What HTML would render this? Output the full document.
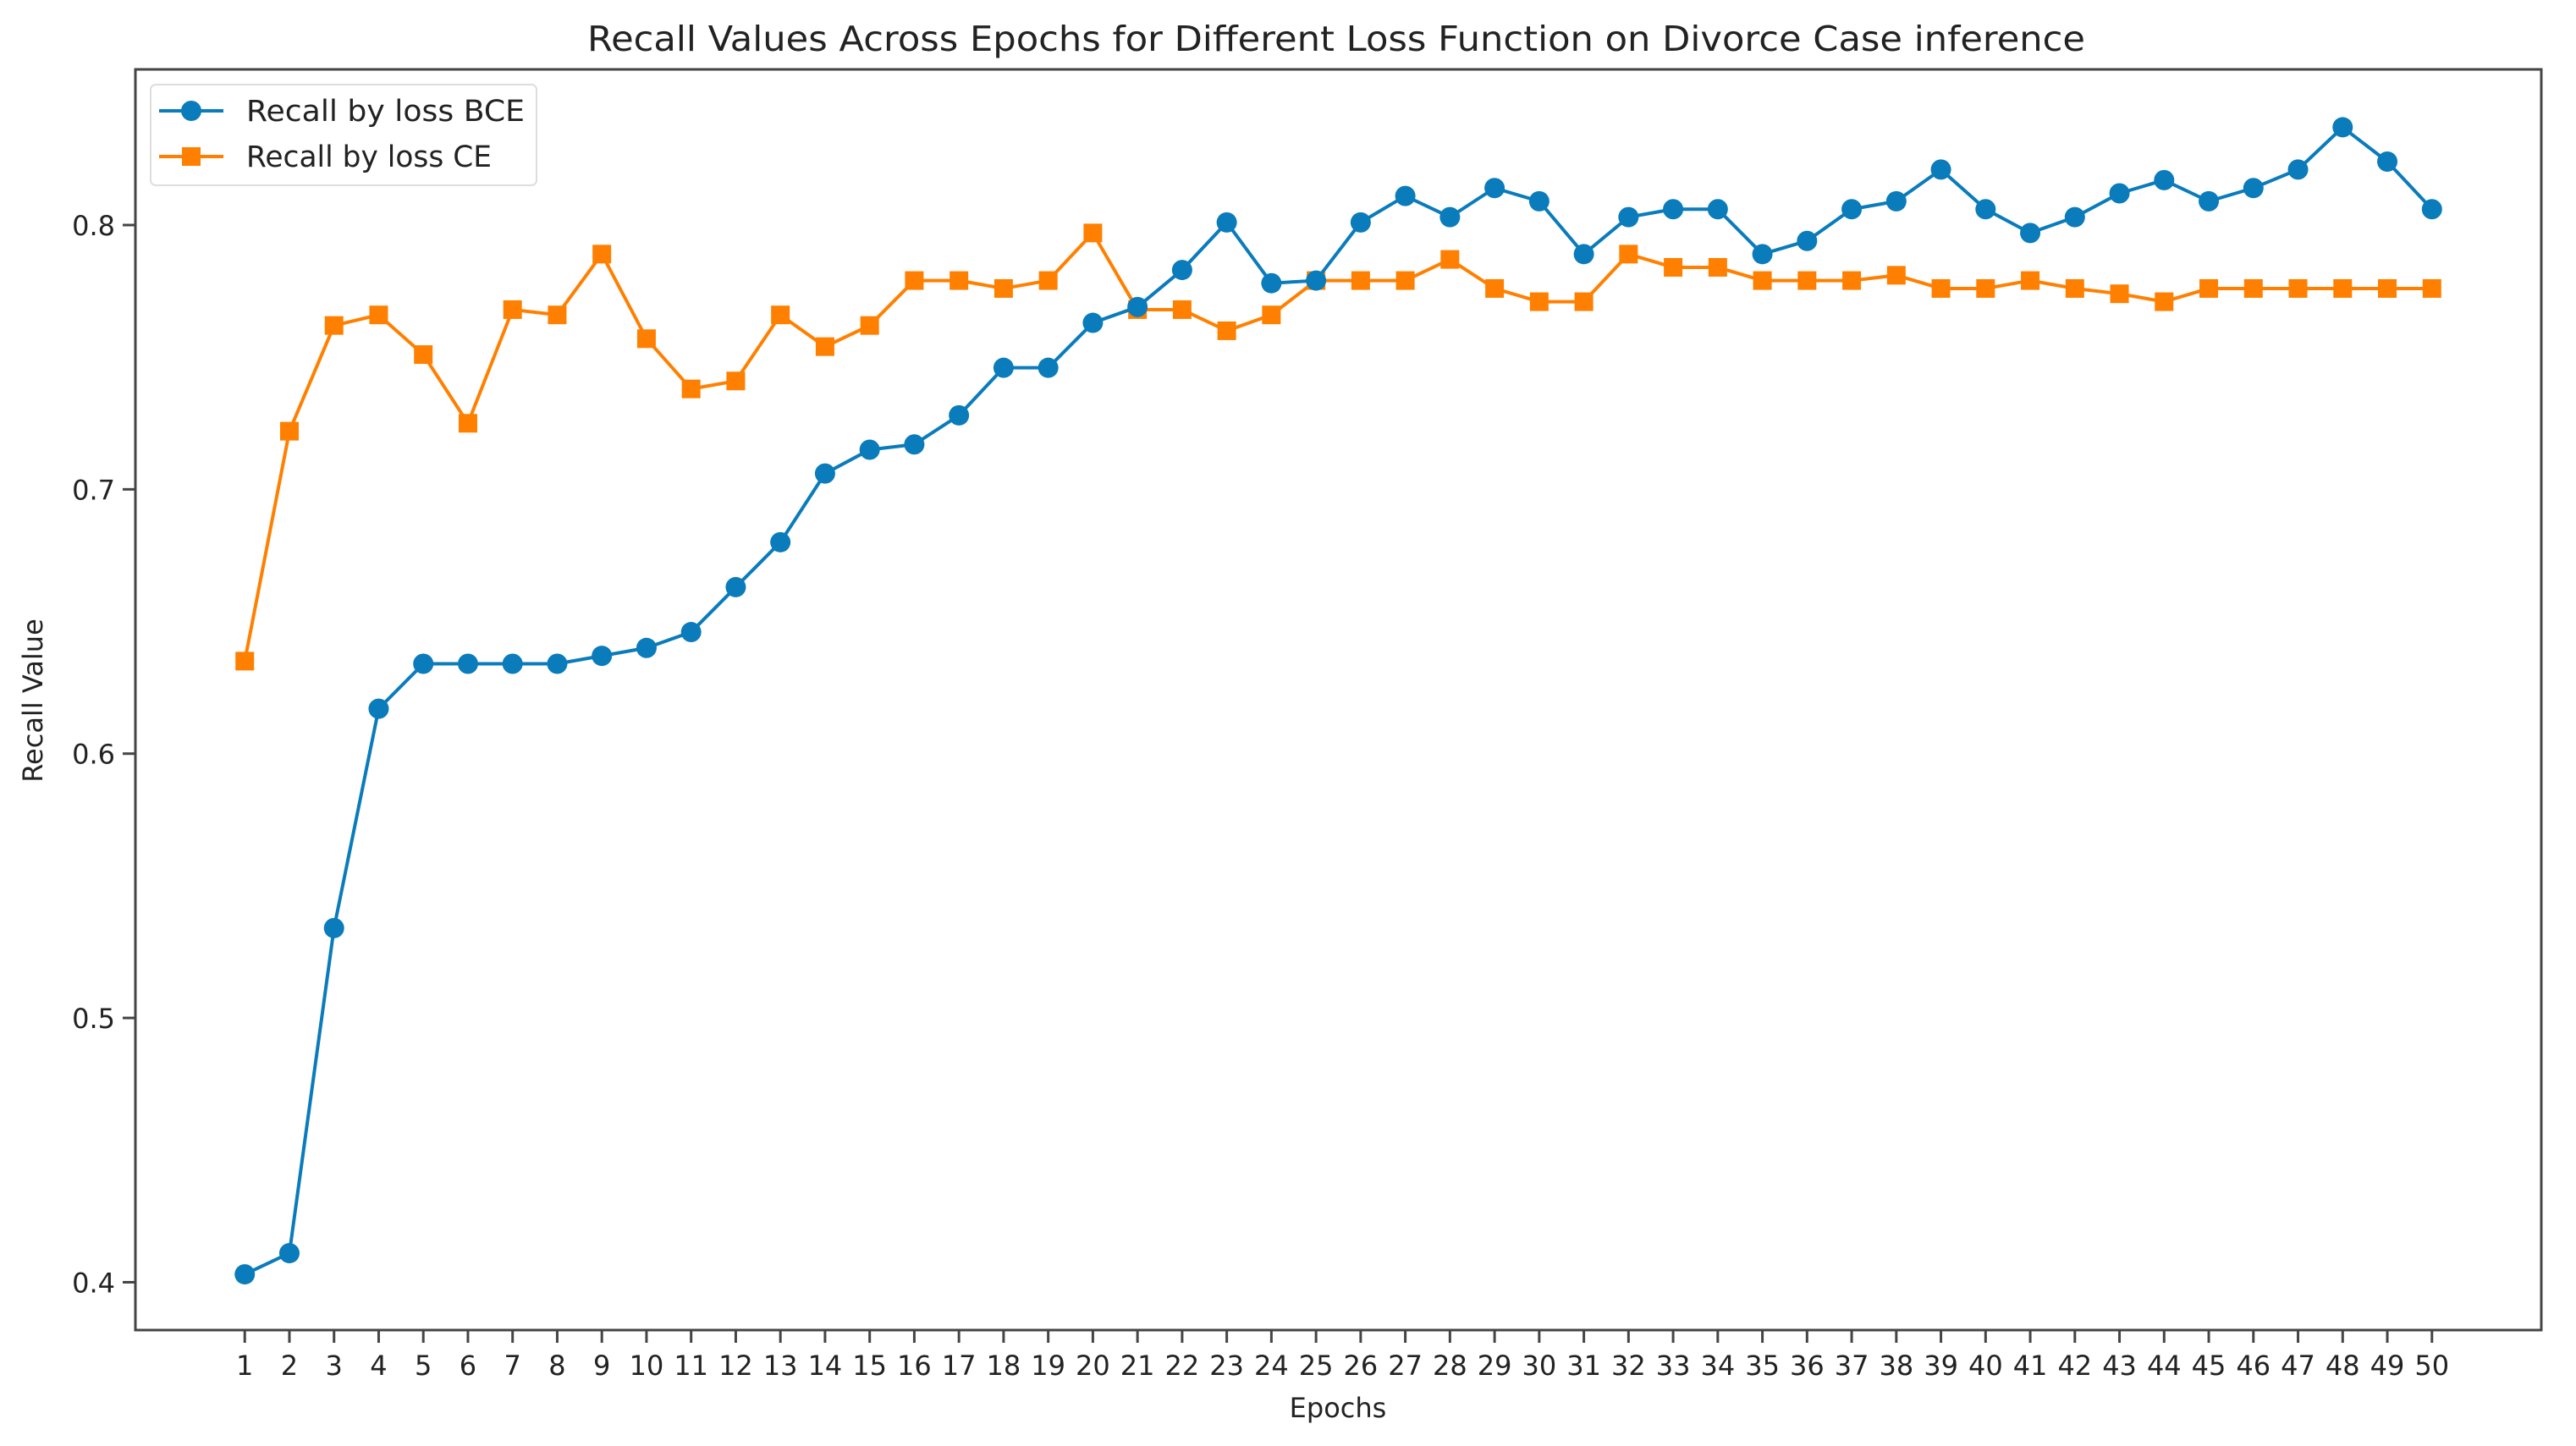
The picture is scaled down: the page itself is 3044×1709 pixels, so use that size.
<!DOCTYPE html>
<html><head><meta charset="utf-8"><style>
html,body{margin:0;padding:0;background:#fff;}
svg{display:block;font-family:"DejaVu Sans","Liberation Sans",sans-serif;}
</style></head><body>
<svg id="chart" width="3044" height="1709" viewBox="0 0 3044 1709" xmlns="http://www.w3.org/2000/svg">
<rect x="0" y="0" width="3044" height="1709" fill="#fff"/>
<text x="694" y="60" font-size="41" textLength="1770" lengthAdjust="spacingAndGlyphs" fill="#222">Recall Values Across Epochs for Different Loss Function on Divorce Case inference</text>
<g id="plot"></g>
<rect x="160" y="82" width="2843" height="1490" fill="none" stroke="#444" stroke-width="3"/>
<text x="1581" y="1675" font-size="32" text-anchor="middle" fill="#222">Epochs</text>
<text transform="translate(50,828) rotate(-90)" font-size="32" text-anchor="middle" fill="#222">Recall Value</text>
<g>
<rect x="178" y="100" width="456" height="119" rx="6" fill="#fff" stroke="#ddd" stroke-width="2"/>
<g>
<line x1="188" y1="131" x2="264" y2="131" stroke="#0a7bbb" stroke-width="4"/>
<circle cx="226" cy="131" r="12" fill="#0a7bbb"/>
<text x="291" y="143" font-size="35" textLength="329" lengthAdjust="spacingAndGlyphs" fill="#222">Recall by loss BCE</text>
</g>
<g>
<line x1="188" y1="185" x2="264" y2="185" stroke="#ff8000" stroke-width="4"/>
<rect x="215" y="174" width="22" height="22" fill="#ff8000"/>
<text x="291" y="197" font-size="35" textLength="290" lengthAdjust="spacingAndGlyphs" fill="#222">Recall by loss CE</text>
</g>
</g>
</svg>
<script>
const epochs = Array.from({length:50},(_,i)=>i+1);
const bceValues = [0.403,0.411,0.534,0.617,0.634,0.634,0.634,0.634,0.637,0.640,0.646,0.663,0.680,0.706,0.715,0.717,0.728,0.746,0.746,0.763,0.769,0.783,0.801,0.778,0.779,0.801,0.811,0.803,0.814,0.809,0.789,0.803,0.806,0.806,0.789,0.794,0.806,0.809,0.821,0.806,0.797,0.803,0.812,0.817,0.809,0.814,0.821,0.837,0.824,0.806];
const ceValues = [0.635,0.722,0.762,0.766,0.751,0.725,0.768,0.766,0.789,0.757,0.738,0.741,0.766,0.754,0.762,0.779,0.779,0.776,0.779,0.797,0.768,0.768,0.760,0.766,0.779,0.779,0.779,0.787,0.776,0.771,0.771,0.789,0.784,0.784,0.779,0.779,0.779,0.781,0.776,0.776,0.779,0.776,0.774,0.771,0.776,0.776,0.776,0.776,0.776,0.776];
const yTicks = [0.4,0.5,0.6,0.7,0.8];
const NS="http://www.w3.org/2000/svg";
const L=160,R=3003,T=82,B=1572;
const xMin=-1.45,xMax=52.45,yMin=0.3819,yMax=0.8589;
const xs=v=>L+(v-xMin)/(xMax-xMin)*(R-L);
const ys=v=>B-(v-yMin)/(yMax-yMin)*(B-T);
const g=document.getElementById('plot');
function mk(tag,attrs){const e=document.createElementNS(NS,tag);for(const k in attrs)e.setAttribute(k,attrs[k]);g.appendChild(e);return e;}
yTicks.forEach(t=>{
 const l=mk('line',{x1:L-15,x2:L,y1:ys(t),y2:ys(t),stroke:'#444','stroke-width':3});
 
 
 const tx=mk('text',{x:L-24,y:ys(t)+12,'font-size':32,'text-anchor':'end',fill:'#222'});
 tx.textContent=t.toFixed(1);
 
 
});
epochs.forEach(e=>{
 const l=mk('line',{x1:xs(e),x2:xs(e),y1:B,y2:B+15,stroke:'#444','stroke-width':3});
 
 
 const tx=mk('text',{x:xs(e),y:1625,'font-size':32,'text-anchor':'middle',fill:'#222'});
 tx.textContent=String(e);
 
 
});
function series(vals,color,name,shape){
 const pts=vals.map((v,i)=>xs(epochs[i])+','+ys(v)).join(' ');
 const pl=mk('polyline',{points:pts,fill:'none',stroke:color,'stroke-width':4,'stroke-linejoin':'round'});
 
 
 vals.forEach((v,i)=>{
  let m;
  if(shape==='c') m=mk('circle',{cx:xs(epochs[i]),cy:ys(v),r:12,fill:color});
  else m=mk('rect',{x:xs(epochs[i])-11,y:ys(v)-11,width:22,height:22,fill:color});
  
  
 });
}
series(ceValues,'#ff8000','ce','s');
series(bceValues,'#0a7bbb','bce','c');
</script>
</body></html>
